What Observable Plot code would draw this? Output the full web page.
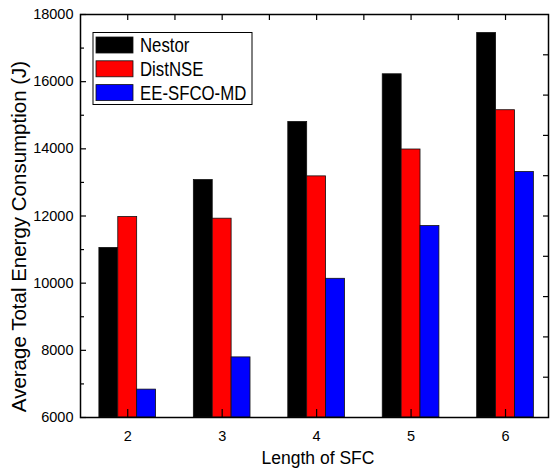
<!DOCTYPE html>
<html>
<head>
<meta charset="utf-8">
<script src="https://cdn.jsdelivr.net/npm/d3@7"></script>
<script src="https://cdn.jsdelivr.net/npm/@observablehq/plot@0.6"></script>
<style>
  body { margin: 0; background: #fff; }
  svg { font-family: "Liberation Sans", Arial, sans-serif; }
</style>
</head>
<body>
<div id="chart"></div>
<script>
// ---- data ----
const lengths = [2, 3, 4, 5, 6];
const seriesNames = ["Nestor", "DistNSE", "EE-SFCO-MD"];
const seriesColors = ["#000000", "#ff0000", "#0000ff"];
const nestor = [11050, 13070, 14800, 16220, 17450];
const distNSE = [11970, 11920, 13180, 13980, 15150];
const eeSfcoMd = [6830, 7790, 10130, 11700, 13310];
const yTickLabels = [6000, 8000, 10000, 12000, 14000, 16000, 18000];
const yMinorTicks = [7000, 9000, 11000, 13000, 15000, 17000];
const rightTicks = [7200, 8400, 9600, 10800, 12000, 13200, 14400, 15600, 16800];
const topTicks = [2, 2.5, 3, 3.5, 4, 4.5, 5, 5.5, 6];
const xLabel = "Length of SFC";
const yLabel = "Average Total Energy Consumption (J)";

// ---- table ----
const allSeries = [nestor, distNSE, eeSfcoMd];
const barW = 0.2;
const rows = [];
lengths.forEach((len, i) => {
  allSeries.forEach((vals, s) => {
    rows.push({len, series: seriesNames[s], s, value: vals[i]});
  });
});

const W = 554, H = 470;
const mL = 80, mR = 6, mT = 14, mB = 53;
const plotW = W - mL - mR, plotH = H - mT - mB;
const yDomain = [6000, 18000];

const plot = Plot.plot({
  width: W, height: H,
  marginLeft: mL, marginRight: mR, marginTop: mT, marginBottom: mB,
  x: {type: "linear", domain: [1.5, 6.455]},
  y: {domain: yDomain},
  color: {domain: seriesNames, range: seriesColors},
  style: {fontFamily: "'Liberation Sans', Arial, sans-serif", background: "#fff"},
  marks: [
    Plot.rectY(rows, {
      x1: d => d.len + (d.s - 1) * barW - barW / 2,
      x2: d => d.len + (d.s - 1) * barW + barW / 2,
      y1: yDomain[0],
      y2: "value",
      fill: "series",
      stroke: "#111",
      strokeWidth: 0.8
    }),
    // inward tick marks
    Plot.tickY(yTickLabels, {y: d => d, insetRight: plotW - 6, stroke: "#000", strokeWidth: 1.2}),
    Plot.tickY(yMinorTicks, {y: d => d, insetRight: plotW - 4, stroke: "#000", strokeWidth: 1.2}),
    Plot.tickY(rightTicks, {y: d => d, insetLeft: plotW - 5, stroke: "#000", strokeWidth: 1.2}),
    Plot.tickX(topTicks, {x: d => d, insetBottom: plotH - 6, stroke: "#000", strokeWidth: 1.2}),
    Plot.tickX(lengths, {x: d => d, insetTop: plotH - 8, stroke: "#000", strokeWidth: 1.2}),
    Plot.axisY({ticks: yTickLabels, tickSize: 0, tickPadding: 7, tickFormat: d => String(d), fontSize: 14.5, fill: "#000", label: null}),
    Plot.axisX({ticks: lengths, tickSize: 0, tickPadding: 13, tickFormat: d => String(d), fontSize: 14.5, fill: "#000", label: null}),
    Plot.text([xLabel], {frameAnchor: "bottom", textAnchor: "middle", dy: 46, dx: 3.5, lineAnchor: "bottom", fontSize: 17.5, fill: "#000"}),
    Plot.text([yLabel], {frameAnchor: "left", textAnchor: "middle", rotate: -90, dx: -55, dy: 20.5, lineAnchor: "bottom", fontSize: 20.5, fill: "#000"}),
    Plot.frame({stroke: "#000", strokeWidth: 1.5})
  ]
});

// ---- legend ----
const svg = d3.select(plot);
const lg = svg.append("g").attr("class", "legend").attr("text-anchor", "start");
lg.append("rect").attr("x", 93).attr("y", 32.5).attr("width", 159).attr("height", 72)
  .attr("fill", "#fff").attr("stroke", "#000").attr("stroke-width", 1);
seriesNames.forEach((name, i) => {
  const y0 = 37 + i * 23.8;
  lg.append("rect").attr("x", 96).attr("y", y0).attr("width", 37).attr("height", 16)
    .attr("fill", seriesColors[i]).attr("stroke", "#111").attr("stroke-width", 0.8);
  lg.append("text")
    .attr("transform", `translate(140,${y0 + 15}) scale(0.84,1)`)
    .attr("text-anchor", "start")
    .attr("font-family", "'Liberation Sans', Arial, sans-serif")
    .style("font-size", "20px").attr("fill", "#000").text(name);
});

document.getElementById("chart").appendChild(plot);
</script>
</body>
</html>
